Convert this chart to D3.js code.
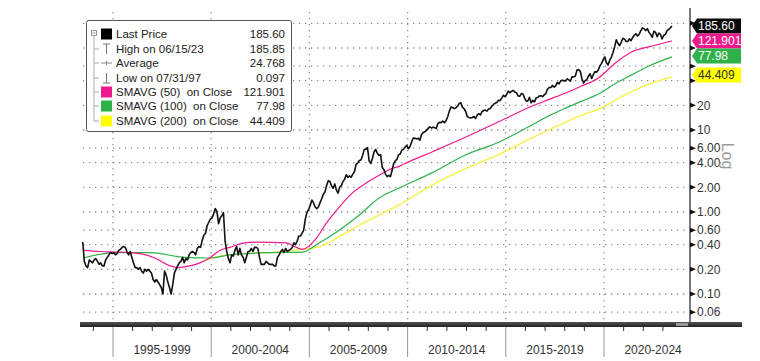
<!DOCTYPE html>
<html><head><meta charset="utf-8">
<script src="https://cdn.jsdelivr.net/npm/d3@7"></script>
<style>body{margin:0;background:#fff}svg{display:block;font-family:"Liberation Sans",Arial,sans-serif}</style>
</head><body><svg id="c" width="760" height="361"></svg>
<script>
// ---- DATA ----
// Monthly closing prices, June 1993 .. June 2023 (log chart)
const priceStart = 1993 + 5.5/12;
const price = [
 0.43,0.25,0.22,0.21,0.26,0.25,0.24,
 0.26,0.27,0.25,0.23,0.24,0.22,0.22,0.26,0.28,0.30,0.32,0.31,
 0.32,0.30,0.31,0.34,0.35,0.37,0.38,0.37,0.33,0.30,0.33,0.28,
 0.24,0.21,0.21,0.20,0.21,0.19,0.18,0.20,0.19,0.20,0.19,0.18,
 0.15,0.14,0.15,0.14,0.13,0.12,0.10,0.19,0.17,0.14,0.12,0.10,
 0.13,0.18,0.20,0.22,0.24,0.25,0.28,0.24,0.27,0.26,0.30,0.32,
 0.33,0.32,0.30,0.36,0.38,0.37,0.45,0.52,0.55,0.68,0.75,0.82,
 0.85,0.95,1.10,1.02,0.72,0.85,0.90,0.98,0.44,0.33,0.27,0.24,
 0.30,0.29,0.34,0.38,0.30,0.36,0.30,0.28,0.24,0.28,0.33,0.33,
 0.36,0.33,0.37,0.37,0.36,0.28,0.23,0.23,0.23,0.25,0.24,0.23,
 0.23,0.23,0.22,0.22,0.28,0.30,0.33,0.35,0.32,0.36,0.33,0.34,
 0.35,0.37,0.42,0.40,0.44,0.51,0.51,0.55,0.60,0.82,0.99,1.07,
 1.20,1.40,1.30,1.15,1.10,1.15,1.30,1.45,1.65,1.75,2.10,2.40,
 2.35,2.10,1.95,2.20,1.85,1.70,2.00,2.10,2.35,2.50,2.85,2.65,
 2.75,2.65,2.90,3.10,3.80,3.95,4.25,4.30,4.90,5.80,5.80,6.10,
 4.20,3.90,4.50,5.40,5.80,5.20,4.90,5.00,3.50,3.30,2.90,2.70,
 2.80,2.70,3.20,3.90,4.20,4.40,5.00,5.10,5.70,5.80,6.20,6.50,
 5.90,6.30,7.20,8.00,7.90,7.80,7.90,7.50,8.80,9.30,9.50,9.90,
 10.4,10.9,10.6,10.8,10.7,10.4,12.0,12.4,12.3,12.8,12.3,13.0,
 14.5,17.0,19.0,18.8,18.3,18.6,19.5,21.0,21.5,19.0,18.2,16.8,
 14.5,14.2,14.0,14.2,14.6,13.8,15.2,15.8,15.3,16.8,17.3,17.5,
 17.0,18.0,18.3,19.5,20.5,21.2,21.6,23.0,22.8,24.5,26.5,25.5,
 27.0,29.8,28.5,29.5,30.5,29.0,28.5,26.0,25.8,27.8,27.5,24.5,
 22.5,22.6,25.0,21.5,23.0,22.0,24.5,25.0,26.0,26.2,25.5,26.8,
 28.0,31.5,33.0,33.0,35.0,33.2,34.5,38.0,36.5,39.5,40.5,40.0,
 39.5,42.0,40.8,39.5,44.5,44.4,45.5,54.0,54.5,52.0,42.5,37.5,
 40.0,41.0,45.5,48.5,42.5,47.5,51.5,50.8,54.0,60.5,65.0,72.0,
 78.0,66.0,62.0,71.0,77.0,88.0,103.0,126.0,114.0,107.0,117.0,131.0,
 129.0,120.0,120.0,129.0,123.0,134.0,143.0,149.0,140.0,147.0,163.0,176.0,
 172.0,163.0,172.0,155.0,146.0,135.0,160.0,155.0,137.0,152.0,147.0,129.0,
 143.0,146.0,163.0,168.0,176.0,185.6
];
// Moving averages (year, value)
const sma50Years  = [1993.48,1994.34,1995.10,1995.86,1996.37,1997.13,1997.79,1998.30,1998.91,1999.42,1999.92,2000.43,2000.94,2001.70,2002.31,2003.83,2004.34,2004.64,2005.36,2005.86,2006.52,2007.18,2007.89,2008.55,2009.21,2009.57,2009.92,2011.24,2012.97,2014.64,2016.32,2017.18,2018.05,2018.86,2019.72,2020.58,2021.40,2022.26,2023.46];
const sma50Values = [0.34,0.33,0.325,0.32,0.31,0.275,0.226,0.21,0.22,0.24,0.275,0.34,0.37,0.42,0.43,0.42,0.37,0.35,0.48,0.73,1.15,1.7,2.25,2.8,3.4,3.6,3.95,5.4,8.2,12.6,19.5,23.5,28.3,34.4,43.1,65.6,89.4,103,121.901];
const sma100Years  = [1993.48,1995.10,1996.88,1998.65,1999.92,2000.94,2002.97,2004.64,2005.50,2006.52,2007.54,2008.55,2009.57,2011.24,2012.97,2014.64,2016.32,2017.18,2018.05,2018.86,2019.72,2020.58,2021.40,2022.26,2023.46];
const sma100Values = [0.275,0.32,0.32,0.28,0.275,0.30,0.32,0.325,0.42,0.6,0.92,1.48,1.96,3.0,5.0,7.1,11.5,14.8,18.5,22.5,27.5,37,47,60,77.98];
const sma200Years  = [1999.47,2000.18,2000.94,2001.70,2002.97,2005.00,2005.50,2006.52,2007.54,2008.55,2009.57,2011.24,2012.97,2014.64,2016.32,2017.18,2018.86,2019.97,2020.58,2021.90,2023.46];
const sma200Values = [0.245,0.28,0.30,0.31,0.32,0.36,0.375,0.50,0.69,0.92,1.22,2.13,3.4,5.0,8.0,10,15.2,19,23.2,33.4,44.409];

const gridValues = [200,100,60,40,20,10,6,4,2,1,0.6,0.4,0.2,0.1,0.06];
const tickLabels = ["20","10","6.00","4.00","2.00","1.00","0.60","0.40","0.20","0.10","0.06"];
const periodStarts = [1995,2000,2005,2010,2015,2020,2025];
const periodLabels = ["1995-1999","2000-2004","2005-2009","2010-2014","2015-2019","2020-2024"];
const legendNames  = ["Last Price","High on 06/15/23","Average","Low on 07/31/97","SMAVG (50)  on Close","SMAVG (100)  on Close","SMAVG (200)  on Close"];
const legendValues = ["185.60","185.85","24.768","0.097","121.901","77.98","44.409"];
const lastLabels   = ["185.60","121.901","77.98","44.409"];
const lastValues   = [185.6,121.901,77.98,44.409];

// ---- STYLE ----
const C = {price:"#111", pink:"#ec1a8c", green:"#2db24a", yellow:"#f6f23c", yellowBox:"#ffff00"};
const svg = d3.select("#c");
const x = d3.scaleLinear().domain([1995,2020]).range([113,604]);
const y = d3.scaleLog().domain([0.04556,307.4]).range([322,8]);
const plotL = 80, plotR = 690, plotT = 8, plotB = 322;

// grid
svg.append("g").selectAll("line").data(gridValues).join("line")
  .attr("x1",plotL+3).attr("x2",plotR-2).attr("y1",d=>y(d)).attr("y2",d=>y(d))
  .attr("stroke","#8a8a8a").attr("stroke-width",1.3).attr("stroke-dasharray","1.3,4.7");
svg.append("g").selectAll("line").data(periodStarts.slice(0,6)).join("line")
  .attr("x1",d=>x(d)).attr("x2",d=>x(d)).attr("y1",plotT+4).attr("y2",plotB)
  .attr("stroke","#8a8a8a").attr("stroke-width",1.3).attr("stroke-dasharray","1.3,4.7");

// lines
const priceData = price.map((v,i)=>[priceStart+i/12, v]);
const lineGen = d3.line().x(d=>x(d[0])).y(d=>y(d[1]));
const smooth = d3.line().x(d=>x(d[0])).y(d=>y(d[1])).curve(d3.curveMonotoneX);
svg.append("path").datum(d3.zip(sma200Years,sma200Values)).attr("d",smooth).attr("fill","none").attr("stroke",C.yellow).attr("stroke-width",1.3);
svg.append("path").datum(d3.zip(sma100Years,sma100Values)).attr("d",smooth).attr("fill","none").attr("stroke",C.green).attr("stroke-width",1.2);
svg.append("path").datum(d3.zip(sma50Years,sma50Values)).attr("d",smooth).attr("fill","none").attr("stroke",C.pink).attr("stroke-width",1.2);
svg.append("path").datum(priceData).attr("d",lineGen).attr("fill","none").attr("stroke",C.price).attr("stroke-width",1.6).attr("stroke-linejoin","round");

// right axis
svg.append("line").attr("x1",plotR).attr("x2",plotR).attr("y1",plotT).attr("y2",327).attr("stroke","#222").attr("stroke-width",1.2);
svg.append("g").selectAll("path").data(gridValues).join("path")
  .attr("d",d=>`M${plotR},${y(d)-2.5}L${plotR+6},${y(d)}L${plotR},${y(d)+2.5}Z`).attr("fill","#111");
const labelVals = gridValues.slice(4);
svg.append("g").selectAll("text").data(labelVals).join("text")
  .attr("x",plotR+7).attr("y",d=>y(d)).attr("dy","0.35em")
  .attr("font-size",12).attr("fill","#333").text((d,i)=>tickLabels[i]);

// Log label
svg.append("text").attr("transform","translate(722,156) rotate(90)").attr("text-anchor","middle")
  .attr("font-size",16).attr("fill","#9a9a9a").text("Log");

// last value boxes
const boxCenters = [26,41,56,75];
const boxFill = ["#0a0a0a",C.pink,C.green,C.yellowBox];
const boxText = ["#fff","#fff","#fff","#333"];
lastValues.forEach((v,i)=>{
  const c = boxCenters[i];
  svg.append("path").attr("d",`M${plotR+2},${c}L${plotR+7},${c-7.5}L${741},${c-7.5}L${741},${c+7.5}L${plotR+7},${c+7.5}Z`).attr("fill",boxFill[i]);
  svg.append("text").attr("x",plotR+8).attr("y",c).attr("dy","0.36em").attr("font-size",12).attr("fill",boxText[i]).text(lastLabels[i]);
});

// bottom axis bar
const grad = svg.append("defs").append("linearGradient").attr("id","bar").attr("x1",0).attr("x2",0).attr("y1",0).attr("y2",1);
grad.append("stop").attr("offset","0").attr("stop-color","#555");
grad.append("stop").attr("offset","1").attr("stop-color","#222");
svg.append("rect").attr("x",80).attr("y",322).attr("width",662).attr("height",5).attr("fill","url(#bar)");
svg.append("rect").attr("x",676).attr("y",323).attr("width",12).attr("height",3).attr("fill","#999");
const minorYears = d3.range(1994,2024).filter(d=>d%5!==0);
svg.append("g").selectAll("line").data(minorYears).join("line")
  .attr("x1",d=>x(d)).attr("x2",d=>x(d)).attr("y1",327).attr("y2",331).attr("stroke","#333").attr("stroke-width",1);
svg.append("g").selectAll("line").data(periodStarts.slice(0,6)).join("line")
  .attr("x1",d=>x(d)).attr("x2",d=>x(d)).attr("y1",327).attr("y2",357).attr("stroke","#999").attr("stroke-width",1);
svg.append("g").selectAll("text").data(periodLabels).join("text")
  .attr("x",(d,i)=>(x(periodStarts[i])+x(periodStarts[i+1]))/2).attr("y",354)
  .attr("text-anchor","middle").attr("font-size",12).attr("fill","#333").text(d=>d);

// legend
const lg = svg.append("g");
lg.append("rect").attr("x",86.5).attr("y",20.5).attr("width",205).attr("height",111).attr("rx",2)
  .attr("fill","#fff").attr("stroke","#555").attr("stroke-width",1);
const rowY = [34,49,63,78,92,106,121];
lg.append("line").attr("x1",94).attr("x2",94).attr("y1",36).attr("y2",rowY[6]).attr("stroke","#aaa");
rowY.slice(1).forEach(r=>lg.append("line").attr("x1",94).attr("x2",99).attr("y1",r).attr("y2",r).attr("stroke","#aaa"));
lg.append("rect").attr("x",91.5).attr("y",30.5).attr("width",5).attr("height",5).attr("fill","#fff").attr("stroke","#999");
lg.append("line").attr("x1",92.5).attr("x2",95.5).attr("y1",33).attr("y2",33).attr("stroke","#999");
const sq = ["#000",null,null,null,C.pink,C.green,C.yellowBox];
sq.forEach((c,i)=>{ if(c) lg.append("rect").attr("x",101).attr("y",rowY[i]-5.5).attr("width",11).attr("height",11).attr("fill",c); });
// High icon (T), Average (-+-), Low (⊥)
lg.append("path").attr("d",`M103,${rowY[1]-5}H110M106.5,${rowY[1]-5}V${rowY[1]+5}`).attr("stroke","#777").attr("fill","none");
lg.append("path").attr("d",`M101,${rowY[2]}H112M106.5,${rowY[2]-2}V${rowY[2]+2}`).attr("stroke","#888").attr("fill","none");
lg.append("path").attr("d",`M103,${rowY[3]+5}H110M106.5,${rowY[3]-5}V${rowY[3]+5}`).attr("stroke","#777").attr("fill","none");
lg.selectAll("text.n").data(legendNames).join("text").attr("class","n")
  .attr("x",116).attr("y",(d,i)=>rowY[i]).attr("dy","0.36em").attr("font-size",11.5).attr("fill","#222")
  .style("white-space","pre").attr("xml:space","preserve").text(d=>d);
lg.selectAll("text.v").data(legendValues).join("text").attr("class","v")
  .attr("x",285).attr("y",(d,i)=>rowY[i]).attr("dy","0.36em").attr("text-anchor","end").attr("font-size",11.5).attr("fill","#222").text(d=>d);
</script>
</body></html>
